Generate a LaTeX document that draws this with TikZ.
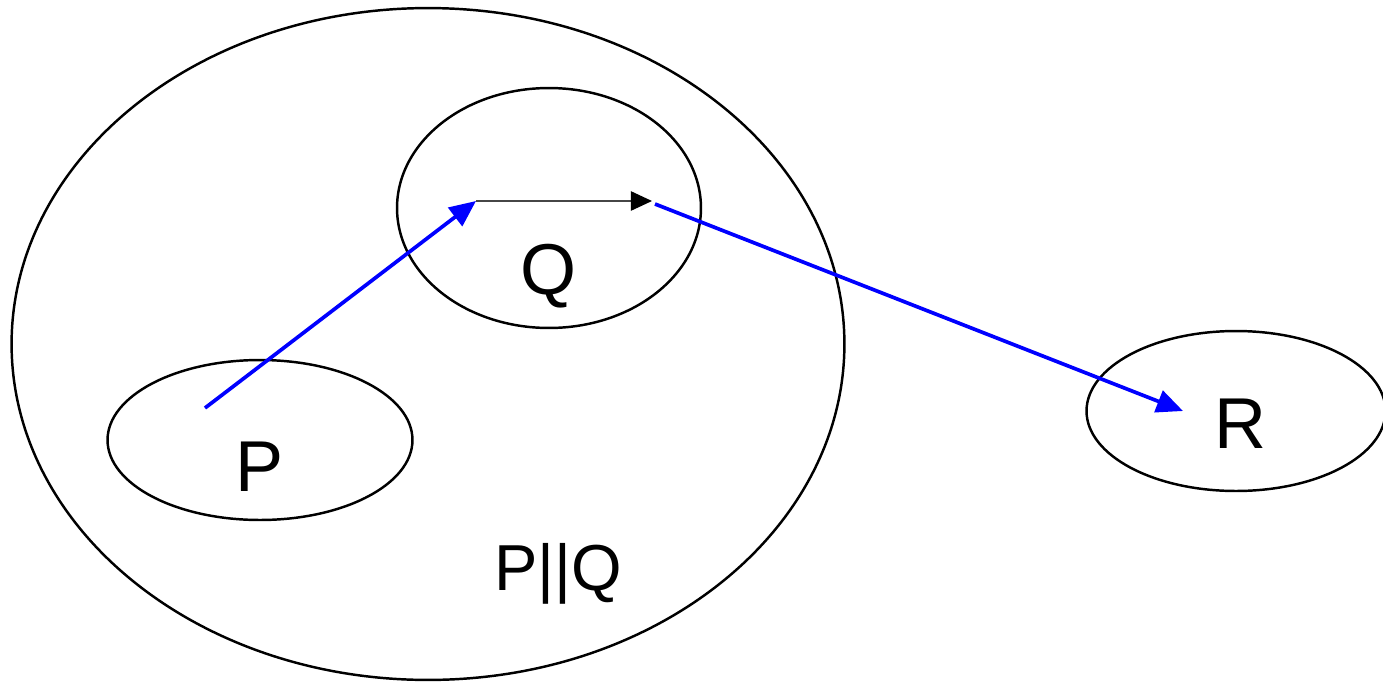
\documentclass[tikz,border=0pt]{standalone}
\usepackage{fontspec}
\setmainfont{Liberation Sans}
\usetikzlibrary{shapes.geometric, arrows.meta}
\definecolor{flowblue}{RGB}{0,0,255}
\definecolor{stepgray}{RGB}{70,70,70}
\tikzset{
  region/.style={ellipse, draw=black, line width=1.4pt, inner sep=0pt},
  label/.style={font=\fontsize{41}{48}\selectfont, text=black, inner sep=0pt},
  arrowblue/.style={-{Triangle[length=15pt, width=13pt]}, line width=2.1pt, color=flowblue},
  arrowstep/.style={-{Triangle[length=12pt, width=11pt, color=black]}, line width=0.8pt, color=stepgray}
}
\begin{document}
\begin{tikzpicture}[x=0.02cm, y=-0.02cm]
  \useasboundingbox (0,0) rectangle (1383,683);

  % Regions
  \node[region, minimum width=16.66cm, minimum height=13.44cm] (pq) at (428,344) {};
  \node[region, minimum width=6.08cm, minimum height=4.8cm] (qreg) at (549,208) {};
  \node[region, minimum width=6.1cm, minimum height=3.2cm] (preg) at (260,440) {};
  \node[region, minimum width=5.98cm, minimum height=3.2cm] (rreg) at (1236,411) {};

  % Labels
  \node[label] (plab) at (260,467) {P};
  \node[label] (qlab) at (549,276) {Q};
  \node[label] (rlab) at (1240,424) {R};
  \node[label, font=\fontsize{37}{44}\selectfont] (pqlab) at (558,574) {P||Q};

  % Points of the run
  \coordinate (start) at (205,408);
  \coordinate (qin) at (476,201);
  \coordinate (qout) at (652,201);
  \coordinate (qleave) at (655,204);
  \coordinate (rin) at (1183,411);

  % Arrows
  \draw[arrowblue] (start) -- (qin);
  \draw[arrowstep] (qin) -- (qout);
  \draw[arrowblue] (qleave) -- (rin);
\end{tikzpicture}
\end{document}
